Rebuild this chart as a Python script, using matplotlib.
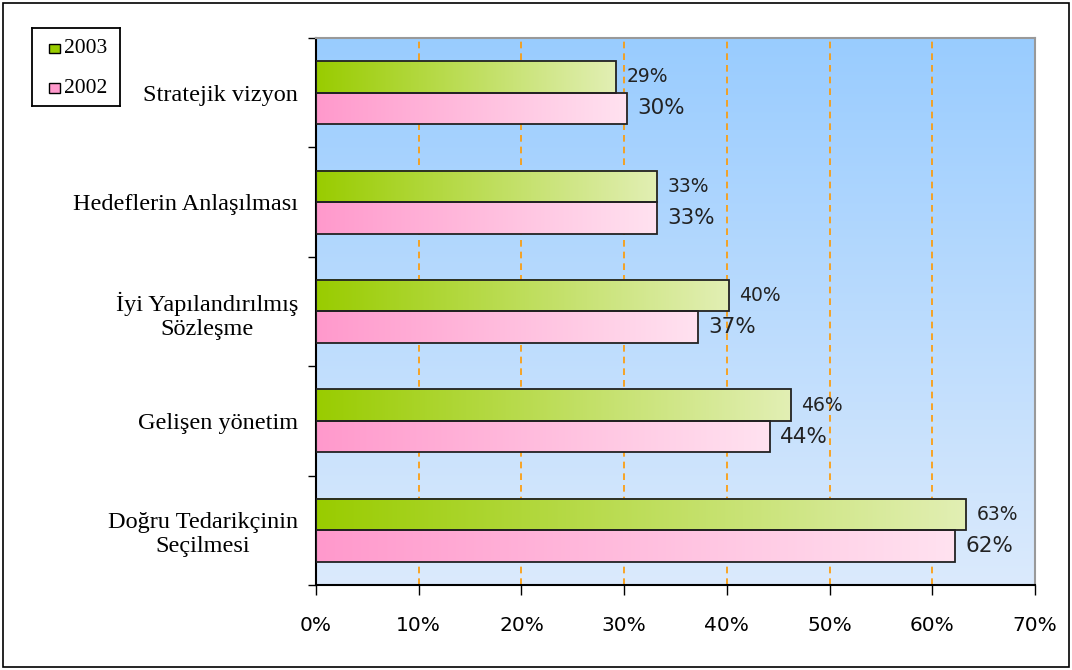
import matplotlib.pyplot as plt
import numpy as np
from matplotlib.colors import LinearSegmentedColormap
from matplotlib.patches import Rectangle

categories = ['Stratejik vizyon', 'Hedeflerin Anlaşılması', 'İyi Yapılandırılmış\nSözleşme',
              'Gelişen yönetim', 'Doğru Tedarikçinin\nSeçilmesi']
v2003 = [29.2, 33.2, 40.2, 46.2, 63.3]
v2002 = [30.3, 33.2, 37.2, 44.2, 62.2]
lab2003 = ['29%', '33%', '40%', '46%', '63%']
lab2002 = ['30%', '33%', '37%', '44%', '62%']
xticks = [0, 10, 20, 30, 40, 50, 60, 70]

green = LinearSegmentedColormap.from_list('g', ['#99cc00', '#e2efb4'])
pink = LinearSegmentedColormap.from_list('p', ['#ff99cc', '#ffe2f0'])
bgmap = LinearSegmentedColormap.from_list('bg', ['#dbeafc', '#99ccff'])
grad = np.linspace(0, 1, 256).reshape(1, -1)

fig = plt.figure(figsize=(10.72, 6.70), dpi=100)
fig.patches.append(Rectangle((0.003, 0.004), 0.994, 0.992, transform=fig.transFigure,
                             fill=False, edgecolor='black', lw=1.2))
ax = fig.add_axes([0.2948, 0.1269, 0.6707, 0.8164])

ax.imshow(np.linspace(0, 1, 256).reshape(-1, 1)[::-1], cmap=bgmap, aspect='auto',
          extent=[0, 1, 0, 1], transform=ax.transAxes, zorder=0)
for x in xticks[1:-1]:
    ax.axvline(x, color='#ff9900', ls=(0, (4, 3)), lw=1.2, zorder=1)

h = 0.288
for i, cat in enumerate(categories):
    for val, lab, cmap, off, fs in ((v2003[i], lab2003[i], green, -h, 13.5),
                                     (v2002[i], lab2002[i], pink, 0, 15.5)):
        y0 = i + off
        ax.imshow(grad, cmap=cmap, aspect='auto', extent=[0, val, y0 + h, y0], zorder=2)
        ax.add_patch(Rectangle((0, y0), val, h, fill=False, edgecolor='#222222', lw=1.3, zorder=3))
        ax.text(val + 1.0, y0 + h / 2, lab, va='center', ha='left', fontsize=fs,
                family='DejaVu Sans', color='#222222', zorder=4)
ax.set_ylim(len(categories) - 0.5, -0.5)
ax.set_xlim(0, 70)

ax.set_yticks(range(len(categories)), categories, family='Liberation Serif', fontsize=17.5,
              ha='right', multialignment='center')
ax.tick_params(axis='y', length=0, pad=13)
ax.set_yticks(np.arange(-0.5, len(categories), 1), minor=True)
ax.tick_params(axis='y', which='minor', length=6, width=1, color='black')
ax.set_xticks(xticks, [f'{x}%' for x in xticks], family='DejaVu Sans', fontsize=14.5)
ax.tick_params(axis='x', length=7, width=1, pad=15, color='black')
for s in ('left', 'bottom'):
    ax.spines[s].set_color('black')
    ax.spines[s].set_linewidth(1.5)
for s in ('top', 'right'):
    ax.spines[s].set_color('#999999')
    ax.spines[s].set_linewidth(1.5)

leg_ax = fig.add_axes([32 / 1072, 1 - 106 / 670, 88 / 1072, 78 / 670])
leg_ax.set_xticks([]); leg_ax.set_yticks([])
for s in leg_ax.spines.values():
    s.set_linewidth(1.3)
for yy, c, t in ((0.74, '#99cc00', '2003'), (0.23, '#ff99cc', '2002')):
    leg_ax.add_patch(Rectangle((0.19, yy - 0.06), 0.13, 0.12, facecolor=c, edgecolor='black', lw=1))
    leg_ax.text(0.36, yy, t, va='center', ha='left', family='Liberation Serif', fontsize=15.5)
leg_ax.set_xlim(0, 1); leg_ax.set_ylim(0, 1)

fig.savefig('out.png', dpi=100)
